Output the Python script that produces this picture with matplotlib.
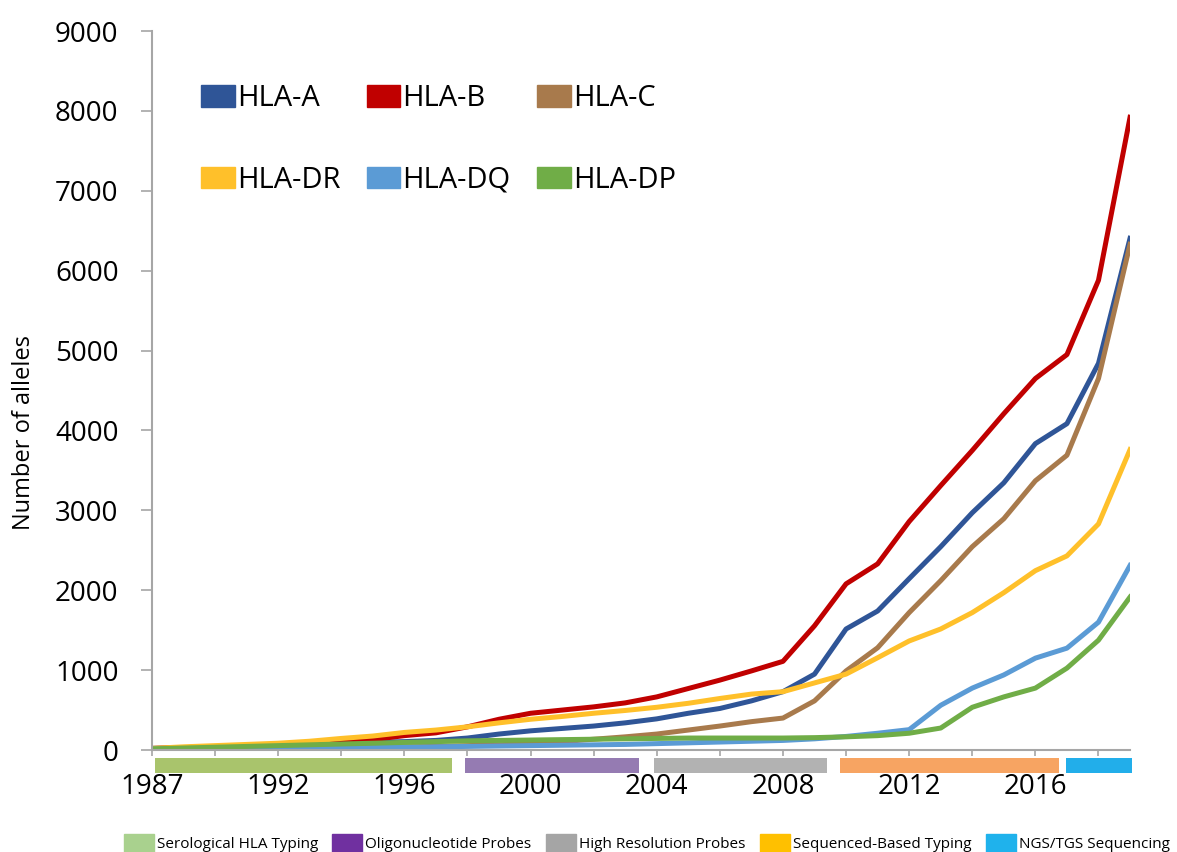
import numpy as np
import matplotlib
matplotlib.use('Agg')
import matplotlib.pyplot as plt
from matplotlib.patches import Rectangle, Patch

plt.rcParams['font.family'] = ['Open Sans', 'DejaVu Sans']

# categories (note: no 1988 entry in the source table)
years = [1987] + list(range(1989, 2020))

hla_a = [20, 30, 40, 50, 60, 70, 80, 95, 105, 120, 150, 200, 240, 270, 300, 340,
         390, 460, 520, 615, 730, 950, 1515, 1740, 2145, 2545, 2970, 3345, 3835,
         4085, 4840, 6405]
hla_b = [20, 30, 40, 50, 65, 80, 100, 130, 180, 215, 290, 385, 460, 500, 540, 590,
         665, 770, 875, 990, 1110, 1555, 2080, 2330, 2860, 3310, 3750, 4210, 4650,
         4950, 5880, 7920]
hla_c = [10, 12, 15, 18, 20, 25, 30, 35, 40, 45, 55, 65, 85, 105, 135, 165,
         200, 250, 300, 355, 400, 615, 990, 1280, 1720, 2120, 2545, 2895, 3370,
         3690, 4650, 6330]
hla_dr = [20, 40, 55, 70, 85, 110, 145, 175, 220, 250, 290, 340, 385, 420, 460, 495,
          535, 585, 645, 700, 730, 840, 950, 1155, 1365, 1515, 1720, 1970, 2245,
          2430, 2830, 3760]
hla_dq = [10, 12, 15, 18, 20, 25, 28, 30, 35, 40, 45, 50, 55, 60, 65, 70,
          80, 90, 100, 110, 120, 140, 170, 210, 255, 560, 775, 940, 1150,
          1275, 1600, 2310]
hla_dp = [15, 25, 35, 45, 55, 65, 75, 85, 95, 105, 115, 120, 125, 130, 135, 140,
          145, 150, 150, 150, 150, 155, 165, 180, 210, 275, 535, 665, 775,
          1025, 1375, 1915]

series = [('HLA-A', hla_a, '#2F5597'), ('HLA-B', hla_b, '#C00000'),
          ('HLA-C', hla_c, '#A87A4C'), ('HLA-DR', hla_dr, '#FFC02A'),
          ('HLA-DQ', hla_dq, '#5B9BD5'), ('HLA-DP', hla_dp, '#70AD47')]

# typing technology eras, in category positions
era_names = ['Serological HLA Typing', 'Oligonucleotide Probes',
             'High Resolution Probes', 'Sequenced-Based Typing', 'NGS/TGS Sequencing']
era_start = [0.1, 9.92, 15.91, 21.8, 28.97]
era_end = [9.5, 15.43, 21.39, 28.75, 31.06]
era_bar_colors = ['#A9C46C', '#957BB2', '#B2B2B2', '#F7A462', '#22AEEA']
era_key_colors = ['#A9D18E', '#7030A0', '#A5A5A5', '#FFC000', '#1FB2EC']

fig = plt.figure(figsize=(11.77, 8.52), dpi=100)
ax = fig.add_axes([0.1291, 0.1197, 0.8310, 0.8439])

x = np.arange(len(years))
for name, vals, col in series:
    ax.plot(x, vals, color=col, lw=3.6, label=name, solid_joinstyle='round')

ax.set_xlim(0, len(years) - 1)
ax.set_ylim(0, 9000)
ax.set_yticks(range(0, 9001, 1000))

ticks = list(range(0, len(years) - 1, 2))
ax.set_xticks(ticks)
ax.set_xticklabels([str(years[i]) if i % 4 == 0 else '' for i in ticks])

for s in ['top', 'right']:
    ax.spines[s].set_visible(False)
for s in ['left', 'bottom']:
    ax.spines[s].set_color('#A6A6A6')
    ax.spines[s].set_linewidth(1.5)

ax.tick_params(axis='y', length=8, width=1.2, color='#A6A6A6', pad=16, labelsize=20)
ax.tick_params(axis='x', length=4.5, width=1.2, color='#A6A6A6', pad=12, labelsize=20)

ax.set_ylabel('Number of alleles', fontsize=17)
ax.yaxis.set_label_coords(-0.119, 0.442)

trans = ax.get_xaxis_transform()
for a, b, c in zip(era_start, era_end, era_bar_colors):
    ax.add_patch(Rectangle((a, -0.032), b - a, 0.021, transform=trans,
                           color=c, clip_on=False, lw=0))

# legend filled column by column -> reorder so rows read A B C / DR DQ DP
order = [0, 3, 1, 4, 2, 5]
handles = [Patch(color=series[i][2], label=series[i][0]) for i in order]
ax.legend(handles=handles, ncol=3, loc='upper left', bbox_to_anchor=(0.0501, 0.926),
          frameon=False, fontsize=21, handlelength=1.16, handleheight=0.75,
          handletextpad=0.07, labelspacing=1.8, columnspacing=0.9,
          borderpad=0, borderaxespad=0)

fig.legend(handles=[Patch(color=c, label=n) for n, c in zip(era_names, era_key_colors)],
           ncol=5, loc='lower left', bbox_to_anchor=(0.105, 0.0), frameon=False,
           fontsize=11, handlelength=1.96, handleheight=1.44, handletextpad=0.2,
           columnspacing=0.95, borderpad=0, borderaxespad=0)

fig.savefig('out.png', dpi=100, facecolor='white')
